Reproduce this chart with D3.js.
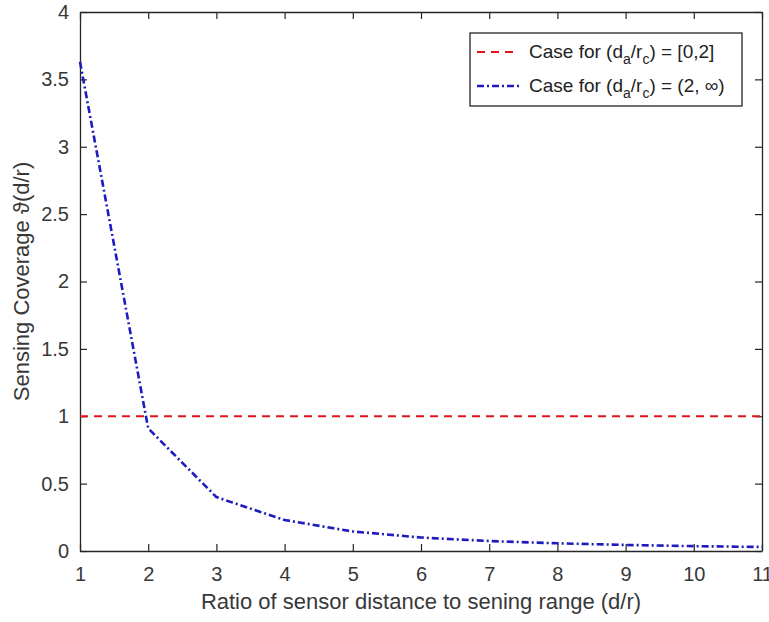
<!DOCTYPE html>
<html lang="en">
<head>
    <meta charset="UTF-8">
    <title>Sensing Coverage</title>
    <script src="https://d3js.org/d3.v7.min.js"></script>
    <style>
        body { margin: 0; background: #fff; }
        svg { display: block; font-family: "Liberation Sans", Arial, sans-serif; }
    </style>
</head>
<body>
    <svg id="chart" width="769" height="622"></svg>
    <script>
        // data
        const ratios = [1, 2, 3, 4, 5, 6, 7, 8, 9, 10, 11];
        const coverageFar = [3.63, 0.91, 0.40, 0.23, 0.145, 0.10, 0.074, 0.057, 0.045, 0.036, 0.030];
        const coverageNear = [1, 1, 1, 1, 1, 1, 1, 1, 1, 1, 1];
        const xTicks = [1, 2, 3, 4, 5, 6, 7, 8, 9, 10, 11];
        const yTicks = [0, 0.5, 1, 1.5, 2, 2.5, 3, 3.5, 4];

        const margin = { left: 80, right: 7, top: 12, bottom: 71 };
        const W = 769, H = 622;
        const svg = d3.select("#chart");
        const axisColor = "#262626";

        const x = d3.scaleLinear().domain([1, 11]).range([margin.left, W - margin.right]);
        const y = d3.scaleLinear().domain([0, 4]).range([H - margin.bottom, margin.top]);

        // axes (ticks inward like matlab, box on)
        const tickLen = 7;
        const fmt = d => String(d);
        svg.append("g").attr("transform", `translate(0,${y(0)})`)
            .call(d3.axisBottom(x).tickValues(xTicks).tickFormat(fmt).tickSizeInner(-tickLen).tickSizeOuter(0).tickPadding(16));
        svg.append("g").attr("transform", `translate(0,${y(4)})`)
            .call(d3.axisTop(x).tickValues(xTicks).tickFormat("").tickSizeInner(-tickLen).tickSizeOuter(0));
        svg.append("g").attr("transform", `translate(${x(1)},0)`)
            .call(d3.axisLeft(y).tickValues(yTicks).tickFormat(fmt).tickSizeInner(-tickLen).tickSizeOuter(0).tickPadding(11));
        svg.append("g").attr("transform", `translate(${x(11)},0)`)
            .call(d3.axisRight(y).tickValues(yTicks).tickFormat("").tickSizeInner(-tickLen).tickSizeOuter(0));
        svg.selectAll(".domain").attr("stroke", axisColor).attr("stroke-width", 1.3);
        svg.selectAll(".tick line").attr("stroke", axisColor).attr("stroke-width", 1.2);
        svg.selectAll(".tick text").attr("font-size", 20).attr("fill", "#383838")
            .attr("font-family", "'Liberation Sans', Arial, sans-serif");

        // lines
        const line = d3.line().x((d, i) => x(ratios[i])).y(d => y(d));
        svg.append("path").datum(coverageNear)
            .attr("d", line).attr("fill", "none")
            .attr("stroke", "#e3121b").attr("stroke-width", 2.2)
            .attr("stroke-dasharray", "8,6");
        svg.append("path").datum(coverageFar)
            .attr("d", line).attr("fill", "none")
            .attr("stroke", "#1c1cc0").attr("stroke-width", 2.6)
            .attr("stroke-dasharray", "7,3,2,3");

        // axis labels
        svg.append("text")
            .attr("x", (x(1) + x(11)) / 2).attr("y", 609)
            .attr("text-anchor", "middle")
            .attr("font-size", 22).attr("fill", "#383838")
            .text("Ratio of sensor distance to sening range (d/r)");

        svg.append("text")
            .attr("transform", `translate(29,${(y(0) + y(4)) / 2}) rotate(-90)`)
            .attr("text-anchor", "middle")
            .attr("font-size", 22).attr("fill", "#383838")
            .text("Sensing Coverage \u03D1(d/r)");

        // legend
        const legend = svg.append("g");
        legend.append("rect")
            .attr("x", 470).attr("y", 33).attr("width", 272).attr("height", 73)
            .attr("fill", "#fff").attr("stroke", axisColor).attr("stroke-width", 1.3);

        const legendItems = [
            { color: "#e3121b", dash: "8,6", width: 2.2, tail: ") = [0,2]" },
            { color: "#1c1cc0", dash: "7,3,2,3", width: 2.6, tail: ") = (2, \u221E)" }
        ];
        legendItems.forEach((d, i) => {
            const cy = 52 + i * 34;
            legend.append("line")
                .attr("x1", 477).attr("x2", 519).attr("y1", cy).attr("y2", cy)
                .attr("stroke", d.color).attr("stroke-width", d.width)
                .attr("stroke-dasharray", d.dash);
            const t = legend.append("text")
                .attr("x", 529).attr("y", cy + 6)
                .attr("font-size", 19).attr("fill", "#222");
            t.append("tspan").text("Case for (d");
            t.append("tspan").attr("dy", 6).attr("font-size", 14).text("a");
            t.append("tspan").attr("dy", -6).text("/r");
            t.append("tspan").attr("dy", 6).attr("font-size", 14).text("c");
            t.append("tspan").attr("dy", -6).text(d.tail);
        });
    </script>
</body>
</html>
